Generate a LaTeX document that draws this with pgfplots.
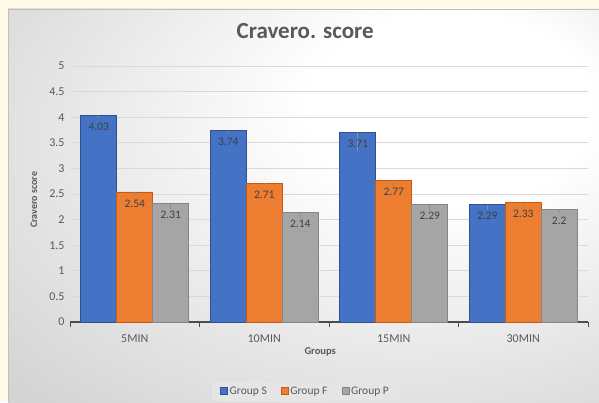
\documentclass[border=0pt]{standalone}
\usepackage{fontspec}
\setmainfont{Carlito}
\usepackage{pgfplots}
\pgfplotsset{compat=1.18}
\definecolor{cS}{HTML}{4472C4}
\definecolor{cSd}{HTML}{2F528F}
\definecolor{cF}{HTML}{ED7D31}
\definecolor{cFd}{HTML}{C55A11}
\definecolor{cP}{HTML}{A5A5A5}
\definecolor{cPd}{HTML}{858585}
\definecolor{txt}{HTML}{595959}
\definecolor{lbl}{HTML}{404040}
\definecolor{cream}{HTML}{FFFBE8}
\definecolor{gridc}{HTML}{D9D9D9}
\pgfdeclareradialshading{chartbg}{\pgfpoint{15bp}{15bp}}{color(0bp)=(white); color(12bp)=(white); color(55bp)=(black!24); color(70bp)=(black!24)}
\begin{document}
\begin{tikzpicture}
\useasboundingbox (0pt,0pt) rectangle (599pt,402pt);
\fill[cream] (0pt,0pt) rectangle (599pt,402pt);
\shade[shading=chartbg] (8pt,0pt) rectangle (599pt,393pt);
\draw[black!25] (8pt,0pt) -- (8pt,393pt) -- (599pt,393pt);
\begin{axis}[
  at={(70pt,80pt)}, anchor=south west,
  scale only axis, width=518pt, height=256pt,
  ymin=0, ymax=5, ytick={0,0.5,...,5},
  xmin=-0.5, xmax=3.5,
  xtick={0,1,2,3}, xticklabels={5MIN,10MIN,15MIN,30MIN},
  minor xtick={-0.5,0.5,1.5,2.5,3.5},
  major tick length=0pt, minor tick length=5pt, tick align=outside,
  axis x line*=bottom, axis y line*=left,
  x axis line style={draw=black!70, line width=1.3pt},
  y axis line style={draw=none},
  ytick style={draw=none},
  xtick style={draw=black!70, line width=1pt},
  ymajorgrids, grid style={gridc, line width=0.8pt},
  /pgf/number format/assume math mode=true,
  ticklabel style={font=\fontsize{12}{12}\selectfont, text=txt},
  yticklabel style={xshift=-2pt},
  xticklabel style={yshift=-9pt},
  ybar=0pt, bar width=36pt,
  title={Cravero. score},
  title style={at={(axis description cs:0.454,1)}, anchor=center, yshift=29pt, font=\fontsize{23}{23}\selectfont\bfseries, text=txt},
  xlabel={Groups},
  xlabel style={at={(axis description cs:0.483,0)}, anchor=center, yshift=-30pt, font=\fontsize{10.5}{10.5}\selectfont\bfseries, text=txt},
  ylabel={Cravero score},
  every axis y label/.style={at={(axis description cs:0,0.477)}, xshift=-36pt, rotate=90, anchor=center, font=\fontsize{10}{10}\selectfont\bfseries, text=txt},
  nodes near coords,
  every node near coord/.append style={font=\fontsize{11.5}{11.5}\selectfont, text=lbl, anchor=north, yshift=-4pt},
  legend columns=3,
  legend style={at={(axis description cs:0.4546,-0.27)}, anchor=center, fill=black!10, draw=none, font=\fontsize{11.5}{11.5}\selectfont, text=txt, inner xsep=8pt, inner ysep=3pt, /tikz/every even column/.append style={column sep=12pt}},
  legend image code/.code={\draw[#1, line width=0.6pt] (0pt,-3.5pt) rectangle (7pt,3.5pt);},
  error bars/y dir=minus, error bars/y explicit, error bars/error mark=none,
  error bars/error bar style={color=black!45, line width=0.6pt},
]
\addplot[fill=cS, draw=cSd, line width=0.6pt] coordinates {(0,4.03) +- (0,0.05) (1,3.74) +- (0,0.05) (2,3.71) +- (0,0.37) (3,2.29) +- (0,0.1)};
\addplot[fill=cF, draw=cFd, line width=0.6pt] coordinates {(0,2.54) +- (0,0.1) (1,2.71) +- (0,0.04) (2,2.77) +- (0,0.14) (3,2.33) +- (0,0.12)};
\addplot[fill=cP, draw=cPd, line width=0.6pt] coordinates {(0,2.31) +- (0,0.1) (1,2.14) +- (0,0.1) (2,2.29) +- (0,0.12) (3,2.2) +- (0,0.05)};
\legend{Group S, Group F, Group P}
\end{axis}
\end{tikzpicture}
\end{document}
